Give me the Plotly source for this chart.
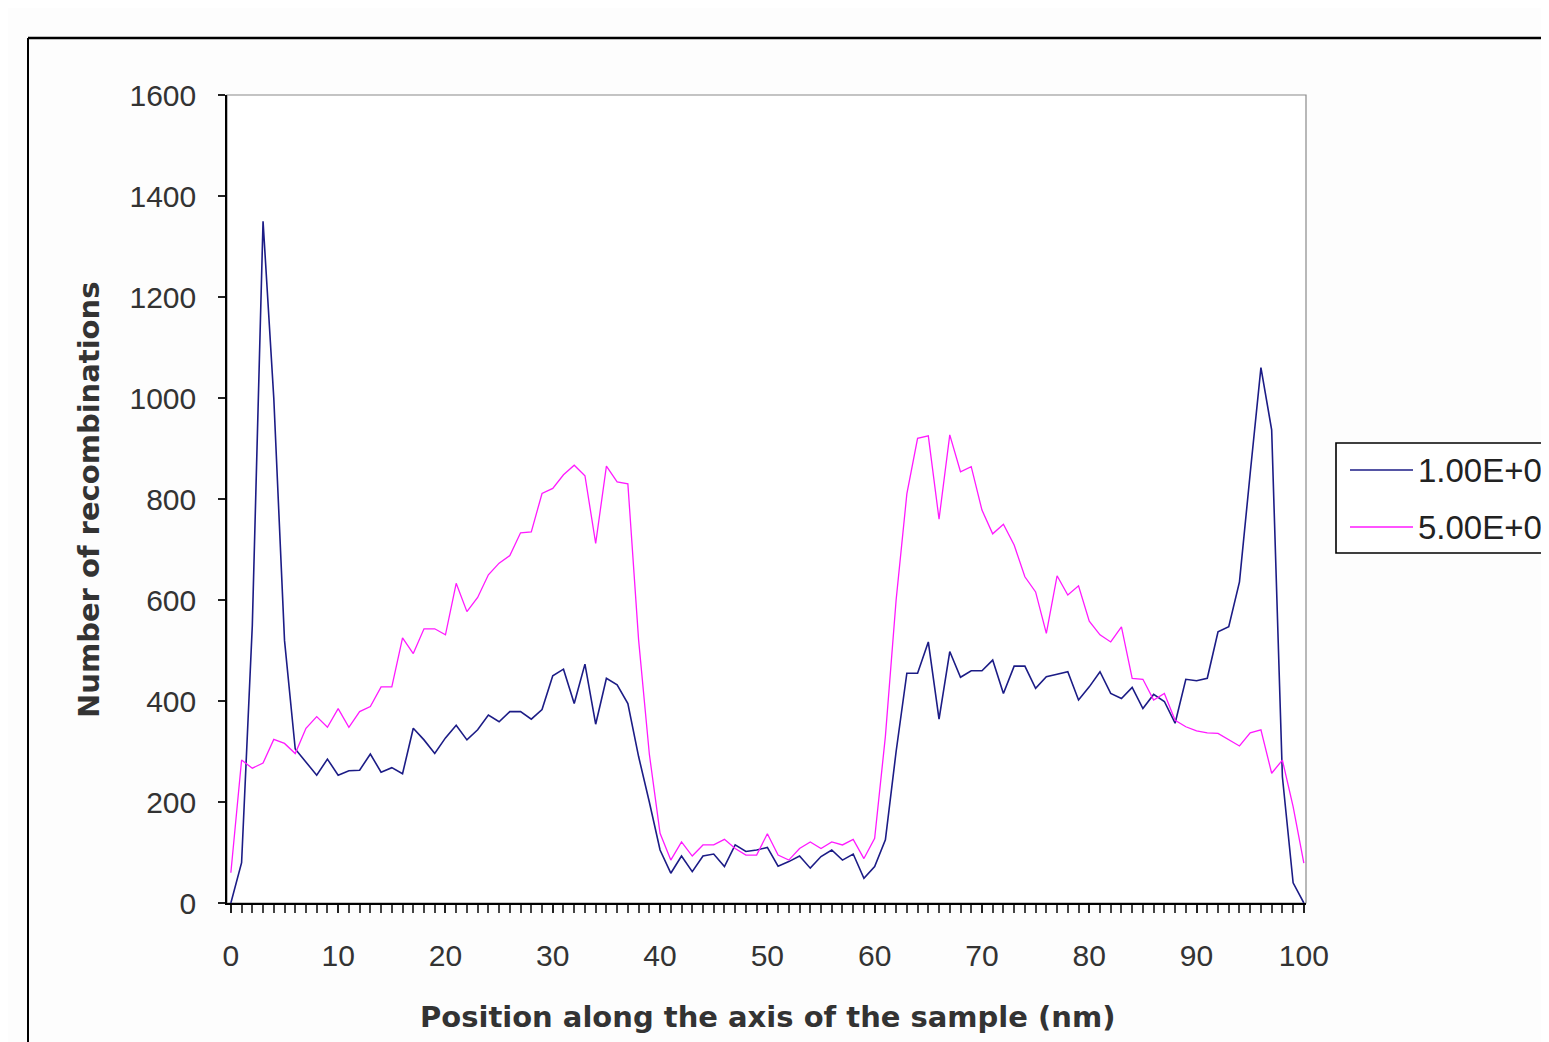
import plotly.graph_objects as go

# ---------------- data ----------------
positions = list(range(0, 101))  # nm

series_1_name = "1.00E+0"
series_1 = [0, 80, 550, 1350, 1000, 520, 305, 280, 253, 285,
            253, 262, 263, 295, 259, 268, 256, 346, 323, 296,
            327, 352, 323, 343, 372, 359, 379, 379, 364, 383,
            450, 463, 395, 473, 354, 445, 432, 395, 290, 200,
            105, 59, 93, 62, 93, 97, 72, 115, 102, 105,
            110, 73, 82, 93, 69, 92, 105, 85, 97, 49,
            72, 125, 300, 455, 455, 517, 364, 498, 447, 460,
            460, 481, 415, 469, 469, 425, 448, 453, 458, 402,
            428, 458, 415, 405, 427, 385, 413, 399, 356, 443,
            440, 445, 537, 547, 636, 851, 1060, 937, 250, 40,
            0]

series_2_name = "5.00E+0"
series_2 = [60, 283, 267, 277, 324, 316, 296, 346, 369, 348,
            385, 348, 379, 389, 428, 428, 525, 494, 543, 543,
            531, 633, 577, 605, 650, 673, 688, 733, 735, 811,
            821, 848, 867, 846, 712, 865, 834, 830, 521, 295,
            138, 85, 121, 93, 115, 115, 126, 108, 95, 95,
            137, 95, 85, 108, 121, 108, 121, 115, 126, 88,
            128, 330, 600, 810, 920, 925, 760, 927, 854, 864,
            778, 731, 750, 709, 646, 616, 534, 648, 610, 628,
            558, 531, 517, 547, 445, 443, 402, 415, 362, 349,
            341, 337, 336, 324, 311, 337, 343, 257, 283, 191,
            79]

x_tick_vals = list(range(0, 101, 10))
y_tick_vals = list(range(0, 1601, 200))

x_title = "Position along the axis of the sample (nm)"
y_title = "Number of recombinations"

# ---------------- layout geometry ----------------
OFF = 8                      # default page body margin
W, H = 1549 - OFF, 1042 - OFF
L, R, T, B = 227 - OFF, 1306 - OFF, 95 - OFF, 903 - OFF  # plot area (figure pixels)


def px(x):   # reference-screen x -> paper
    return (x - OFF - L) / (R - L)


def py(y):   # reference-screen y -> paper
    return (B - (y - OFF)) / (B - T)


FONT = "Liberation Sans, Arial, sans-serif"
NAVY = "#1c1c86"
MAGENTA = "#ff1aff"

fig = go.Figure()
fig.add_trace(go.Scatter(x=positions, y=series_1, mode="lines", name=series_1_name,
                         line=dict(color=NAVY, width=1.6), showlegend=False))
fig.add_trace(go.Scatter(x=positions, y=series_2, mode="lines", name=series_2_name,
                         line=dict(color=MAGENTA, width=1.3), showlegend=False))

shapes = []
# plot-area border (grey, top & right)
shapes.append(dict(type="rect", xref="paper", yref="paper", x0=0, x1=1, y0=0, y1=1,
                   line=dict(color="#8a8a8a", width=1.2), layer="below"))
# outer chart-area border (cropped by the image)
shapes.append(dict(type="line", xref="paper", yref="paper", x0=px(28), x1=px(1700),
                   y0=py(38), y1=py(38), line=dict(color="black", width=2.5)))
shapes.append(dict(type="line", xref="paper", yref="paper", x0=px(28), x1=px(28),
                   y0=py(38), y1=py(1200), line=dict(color="black", width=2)))
# legend box (cropped by the image)
shapes.append(dict(type="rect", xref="paper", yref="paper", x0=px(1336), x1=px(1800),
                   y0=py(553), y1=py(443), line=dict(color="black", width=1.6),
                   fillcolor="white"))
# legend samples
for yy, col, wd in [(470, NAVY, 1.6), (527, MAGENTA, 1.3)]:
    shapes.append(dict(type="line", xref="paper", yref="paper", x0=px(1350), x1=px(1413),
                       y0=py(yy), y1=py(yy), line=dict(color=col, width=wd)))

annotations = []
for yy, txt in [(470, series_1_name), (527, series_2_name)]:
    annotations.append(dict(xref="paper", yref="paper", x=px(1416), y=py(yy),
                            xanchor="left", yanchor="middle", showarrow=False,
                            text=txt, font=dict(family=FONT, size=33, color="#222")))
annotations.append(dict(xref="paper", yref="paper", x=px(767), y=py(1017),
                        xanchor="center", yanchor="middle", showarrow=False,
                        text="<b>" + x_title + "</b>",
                        font=dict(family="DejaVu Sans, sans-serif", size=29, color="#333")))
annotations.append(dict(xref="paper", yref="paper", x=px(89), y=py(500),
                        xanchor="center", yanchor="middle", showarrow=False,
                        textangle=-90, text="<b>" + y_title + "</b>",
                        font=dict(family="DejaVu Sans, sans-serif", size=29, color="#333")))

fig.update_layout(
    width=W, height=H, autosize=False,
    margin=dict(l=L, r=W - R, t=T, b=H - B, pad=0),
    paper_bgcolor="#fdfdfd", plot_bgcolor="white",
    font=dict(family=FONT, size=30, color="#333"),
    shapes=shapes, annotations=annotations,
    showlegend=False,
)
fig.update_xaxes(
    range=[-0.36, 100.2], tickvals=x_tick_vals, ticktext=[str(v) for v in x_tick_vals],
    showgrid=False, zeroline=False, showline=True, linecolor="black", linewidth=1.5,
    ticks="outside", ticklen=8, tickwidth=1.5, tickcolor="#222",
    minor=dict(dtick=1, tick0=0, ticks="outside", ticklen=8, tickwidth=1.5, tickcolor="#444"),
    tickfont=dict(family=FONT, size=30, color="#333"), ticklabelstandoff=17,
)
fig.update_yaxes(
    range=[0, 1600], tickvals=y_tick_vals,
    showgrid=False, zeroline=False, showline=True, linecolor="black", linewidth=1.5,
    ticks="outside", ticklen=7, tickwidth=1.5, tickcolor="#222",
    tickfont=dict(family=FONT, size=30, color="#333"), ticklabelstandoff=16,
)

fig.write_html("out.html")
